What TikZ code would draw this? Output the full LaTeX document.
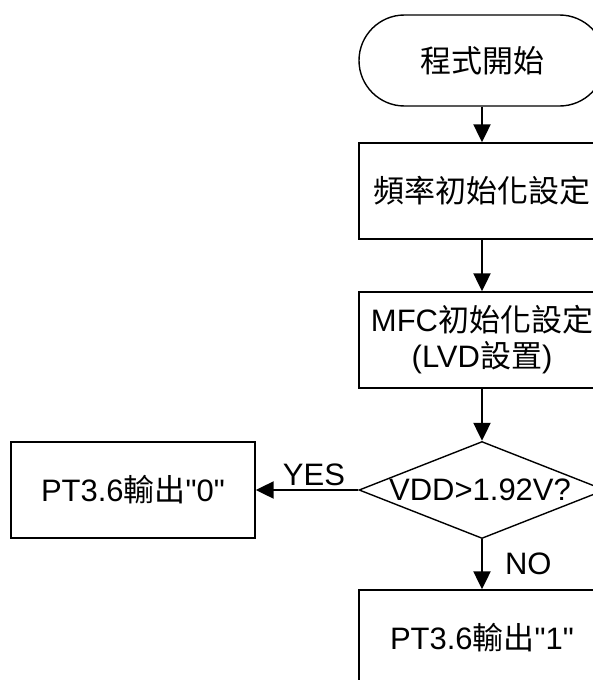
\documentclass[tikz,border=0pt]{standalone}
\usepackage{fontspec}
\setmainfont{Liberation Sans}[Ligatures=TeXOff]
\newfontfamily\cjk{Noto Sans CJK TC}
\usetikzlibrary{shapes.geometric,arrows.meta}
\begin{document}
\begin{tikzpicture}[x=1pt,y=-1pt,
  every node/.style={font=\fontsize{31}{36}\selectfont, text=black},
  box/.style={draw, line width=1.4pt, rectangle, inner sep=0pt, minimum width=246pt, minimum height=96pt, align=center},
  term/.style={draw, line width=1.4pt, rectangle, rounded corners=45.5pt, inner sep=0pt, minimum width=246pt, minimum height=91pt},
  dec/.style={draw, line width=1.4pt, diamond, inner sep=0pt, minimum width=246pt, minimum height=97pt},
  flow/.style={line width=2.2pt, -{Triangle[length=18pt,width=17pt]}},
  lbl/.style={inner sep=0pt}
]
\clip (0,0) rectangle (593,680);
\fill[white] (0,0) rectangle (593,680);
\node[term] (start) at (482,60.5) {{\cjk 程式開始}};
\node[box] (freq) at (482,191) {{\cjk 頻率初始化設定}};
\node[box] (mfc) at (482,340) {MFC{\cjk 初始化設定}\\({LVD}{\cjk 設置})};
\node[dec] (dec) at (482,490) {};
\node[lbl] (dectext) at (480,490) {VDD>1.92V?};
\node[box, minimum width=244pt] (out0) at (133,490) {PT3.6{\cjk 輸出}"0"};
\node[box] (out1) at (482,638) {PT3.6{\cjk 輸出}"1"};
\draw[flow] (start) -- (freq);
\draw[flow] (freq) -- (mfc);
\draw[flow] (mfc) -- (dec);
\draw[flow] (dec.west) -- node[lbl, above=3pt, xshift=7pt] (yes) {YES} (out0.east);
\draw[flow] (dec.south) -- node[lbl, right=22pt] (no) {NO} (out1.north);
\end{tikzpicture}
\end{document}
